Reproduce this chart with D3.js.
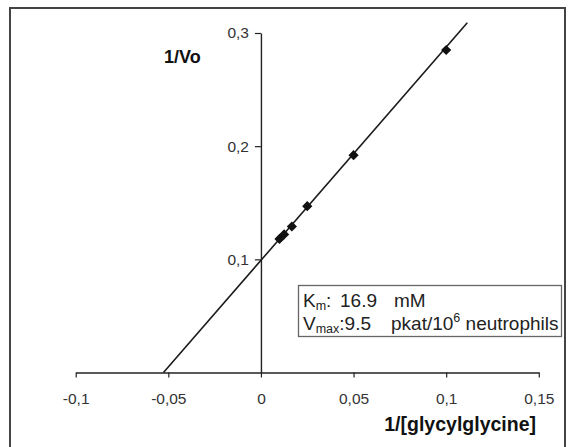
<!DOCTYPE html>
<html><head><meta charset="utf-8">
<script src="https://cdn.jsdelivr.net/npm/d3@7"></script>
<style>html,body{margin:0;padding:0;background:#fff;}svg{display:block;font-family:"Liberation Sans",Arial,sans-serif;}</style>
</head><body>
<script>
// data
const pointX = [0.01, 0.0125, 0.0167, 0.025, 0.05, 0.1];
const pointY = [0.118, 0.122, 0.129, 0.147, 0.192, 0.285];
const lineX = [-0.0526, 0.1114];
const lineY = [0, 0.309];
const xTicks = [-0.1, -0.05, 0, 0.05, 0.1, 0.15];
const xTickLabels = ["-0,1", "-0,05", "0", "0,05", "0,1", "0,15"];
const yTicks = [0.1, 0.2, 0.3];
const yTickLabels = ["0,1", "0,2", "0,3"];

const W = 568, H = 447;
const svg = d3.select("body").append("svg").attr("width", W).attr("height", H);

// outer frame
svg.append("rect").attr("x", 10).attr("y", 8).attr("width", 555).attr("height", 460)
  .attr("fill", "none").attr("stroke", "#444").attr("stroke-width", 2);

const x = d3.scaleLinear().domain([-0.1, 0.15]).range([75.7, 538.8]);
const y = d3.scaleLinear().domain([0, 0.3]).range([372.5, 33]);

// x axis
const xAxis = d3.axisBottom(x).tickValues(xTicks).tickSize(5).tickSizeOuter(0)
  .tickFormat((d, i) => xTickLabels[i]).tickPadding(15);
const gx = svg.append("g").attr("transform", `translate(0,${y(0)})`).call(xAxis);
gx.select(".domain").attr("stroke", "#222").attr("stroke-width", 1.4);
gx.selectAll(".tick line").attr("stroke", "#222").attr("stroke-width", 1.2);
gx.selectAll(".tick text").attr("font-size", 15.5).attr("fill", "#333")
  .attr("font-family", "Liberation Sans, Arial, sans-serif");

// y axis
const yAxis = d3.axisLeft(y).tickValues(yTicks).tickSize(6).tickSizeOuter(0)
  .tickFormat((d, i) => yTickLabels[i]).tickPadding(6);
const gy = svg.append("g").attr("transform", `translate(${x(0)},0)`).call(yAxis);
gy.select(".domain").attr("stroke", "#222").attr("stroke-width", 1.4);
gy.selectAll(".tick line").attr("stroke", "#222").attr("stroke-width", 1.2);
gy.selectAll(".tick text").attr("font-size", 15.5).attr("fill", "#333")
  .attr("font-family", "Liberation Sans, Arial, sans-serif");

// regression line
const lineData = lineX.map((v, i) => [v, lineY[i]]);
svg.append("path").datum(lineData)
  .attr("d", d3.line().x(d => x(d[0])).y(d => y(d[1])))
  .attr("stroke", "#1a1a1a").attr("stroke-width", 1.6).attr("fill", "none");

// markers
const pts = pointX.map((v, i) => [v, pointY[i]]);
svg.append("g").selectAll("path").data(pts).join("path")
  .attr("d", d3.symbol(d3.symbolSquare, 52)())
  .attr("transform", d => `translate(${x(d[0])},${y(d[1])}) rotate(45)`)
  .attr("fill", "#111");

// axis titles
svg.append("text").attr("x", 164).attr("y", 63).attr("font-size", 18)
  .attr("font-weight", "bold").attr("fill", "#111").text("1/Vo");
svg.append("text").attr("x", 536).attr("y", 431).attr("font-size", 19.5)
  .attr("text-anchor", "end").attr("font-weight", "bold").attr("fill", "#111")
  .text("1/[glycylglycine]");

// info box
svg.append("rect").attr("x", 298.5).attr("y", 285.5).attr("width", 263).attr("height", 51)
  .attr("fill", "#fff").attr("stroke", "#666").attr("stroke-width", 1.3);
const t1 = svg.append("text").attr("y", 307).attr("font-size", 19).attr("fill", "#222");
t1.append("tspan").attr("x", 303).text("K");
t1.append("tspan").attr("font-size", 12.5).attr("dy", 3).text("m");
t1.append("tspan").attr("dy", -3).text(":");
t1.append("tspan").attr("x", 340).text("16.9");
t1.append("tspan").attr("x", 394).text("mM");
const t2 = svg.append("text").attr("y", 330).attr("font-size", 19).attr("fill", "#222");
t2.append("tspan").attr("x", 303).text("V");
t2.append("tspan").attr("font-size", 12.5).attr("dy", 3).text("max");
t2.append("tspan").attr("dy", -3).text(":9.5");
t2.append("tspan").attr("x", 391).text("pkat/10");
t2.append("tspan").attr("font-size", 12.5).attr("dy", -8).text("6");
t2.append("tspan").attr("dy", 8).text(" neutrophils");
</script>
</body></html>
